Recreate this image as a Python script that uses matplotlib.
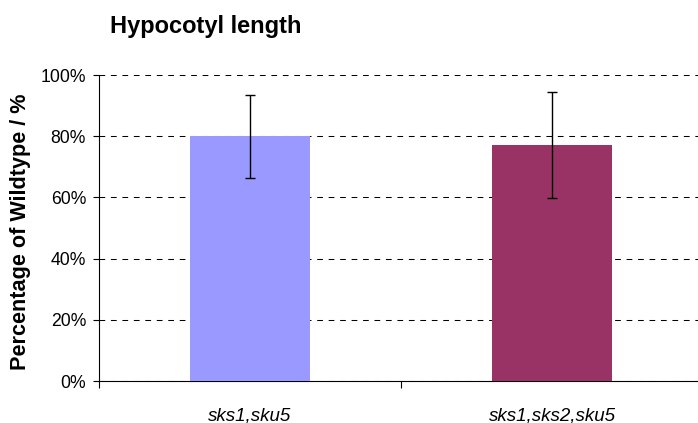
import numpy as np
import matplotlib.pyplot as plt
from matplotlib.ticker import FixedLocator, FixedFormatter

# Podatki
categories = ['sks1,sku5', 'sks1,sks2,sku5']
values = [80.0, 77.0]
errors = [13.5, 17.3]
colors = ['#9999FF', '#993366']
yticks = [0, 20, 40, 60, 80, 100]

plt.rcParams['font.family'] = ['Liberation Sans', 'DejaVu Sans']

fig = plt.figure(figsize=(6.98, 4.23), dpi=100)
ax = fig.add_axes([99 / 698, 42 / 423, 604 / 698, 306 / 423])

x = np.arange(len(categories))
ax.bar(x, values, width=0.4, color=colors, zorder=3)
ax.errorbar(x, values, yerr=errors, fmt='none', ecolor='black',
            elinewidth=1.0, capsize=3.3, capthick=1.0, zorder=4)

ax.set_xlim(-0.5, len(categories) - 0.5)
ax.set_ylim(0, 100)

# Mreža
ax.set_yticks(yticks)
ax.set_yticklabels([f'{t}%' for t in yticks])
ax.yaxis.grid(True, color='black', linewidth=0.75, linestyle=(0, (5.5, 5.5)), zorder=0)
ax.set_axisbelow(True)

# Kljukice na x osi med kategorijami, oznake na sredini
ax.xaxis.set_major_locator(FixedLocator([-0.5, 0.5, 1.5]))
ax.xaxis.set_major_formatter(FixedFormatter(['', '', '']))
ax.xaxis.set_minor_locator(FixedLocator(list(x)))
ax.xaxis.set_minor_formatter(FixedFormatter(categories))
ax.tick_params(axis='x', which='major', length=5, width=0.8, direction='out')
ax.tick_params(axis='x', which='minor', length=0, pad=19, labelsize=13.5)
for lab in ax.xaxis.get_minorticklabels():
    lab.set_style('italic')
ax.tick_params(axis='y', length=4.3, width=0.8, pad=5, labelsize=12.7)

for s in ['top', 'right']:
    ax.spines[s].set_visible(False)
for s in ['left', 'bottom']:
    ax.spines[s].set_linewidth(0.8)

fig.text(110 / 698, 1 - 33 / 423, 'Hypocotyl length', fontsize=17,
         fontweight='bold', ha='left', va='baseline')
fig.text(21 / 698, 1 - 232 / 423, 'Percentage of Wildtype / %', fontsize=15.6,
         fontweight='bold', rotation=90, ha='center', va='center')

fig.savefig('out.png', dpi=100)
